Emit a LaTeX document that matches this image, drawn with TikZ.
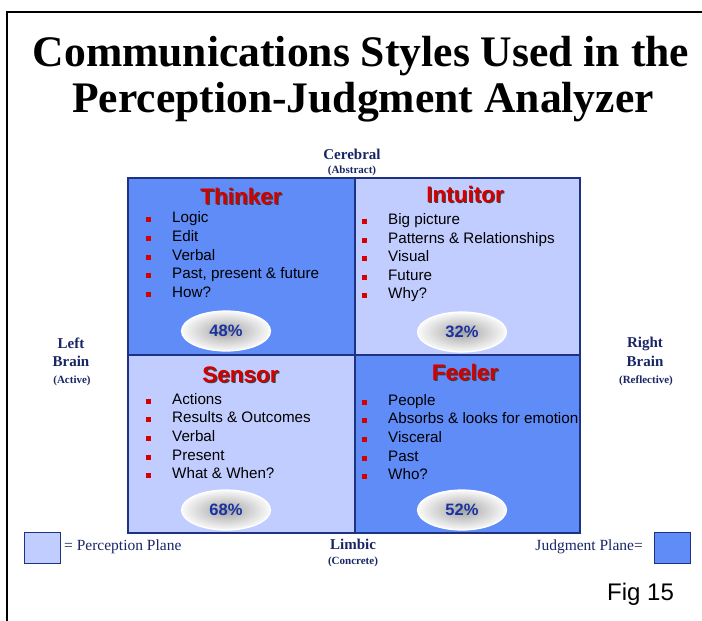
\documentclass[tikz,border=0pt]{standalone}
\usepackage{fontspec}
\setmainfont{Liberation Serif}
\setsansfont{Liberation Sans}
\usetikzlibrary{shapes.geometric}

\definecolor{judg}{RGB}{96,140,248}
\definecolor{perc}{RGB}{194,205,255}
\definecolor{edgeblue}{RGB}{30,50,130}
\definecolor{labnavy}{RGB}{25,38,100}
\definecolor{headred}{RGB}{212,0,0}
\definecolor{pctblue}{RGB}{25,50,160}

\begin{document}
\begin{tikzpicture}[x=1pt,y=-1pt,
  quad/.style={draw=edgeblue,line width=1.5pt},
  headtxt/.style={font=\sffamily\bfseries\fontsize{22.5}{26}\selectfont,inner sep=0pt,anchor=base},
  head/.style={headtxt,text=headred},
  headshadow/.style={headtxt,text=black!75},
  item/.style={font=\sffamily\fontsize{15.2}{18}\selectfont,inner sep=0pt,anchor=base west},
  sq/.style={fill=headred,minimum size=5pt,inner sep=0pt,anchor=south west},
  pct/.style={ellipse,minimum width=89pt,minimum height=40pt,draw=white,line width=1.2pt,
    inner color=gray!72,outer color=gray!4,
    font=\sffamily\bfseries\fontsize{16.5}{19}\selectfont,text=pctblue},
  axis/.style={font=\bfseries\fontsize{15}{17}\selectfont,text=labnavy,inner sep=0pt,anchor=base},
  axissub/.style={font=\bfseries\fontsize{11}{13}\selectfont,text=labnavy,inner sep=0pt,anchor=base},
  legendtxt/.style={font=\fontsize{15.5}{18}\selectfont,text=labnavy,inner sep=0pt,anchor=base},
  key/.style={draw=edgeblue,line width=1pt}]

\useasboundingbox (0,0) rectangle (702,621);

% frame
\coordinate (fbl) at (7,621);
\coordinate (ftl) at (7,12);
\coordinate (ftr) at (702,12);
\draw[line width=1.2pt] (fbl) -- (ftl) -- (ftr);

% title
\node[font=\bfseries\fontsize{43.6}{50}\selectfont,inner sep=0pt,anchor=base] (title1) at (361,66) {Communications Styles Used in the};
\node[font=\bfseries\fontsize{43.6}{50}\selectfont,inner sep=0pt,anchor=base] (title2) at (363,112) {Perception-Judgment Analyzer};

% quadrants
\path[quad,fill=judg] (128,178) rectangle (355,355);
\path[quad,fill=perc] (355,178) rectangle (580,355);
\path[quad,fill=perc] (128,355) rectangle (355,533);
\path[quad,fill=judg] (355,355) rectangle (580,533);

% Thinker
\node[headshadow] (thinkS) at (242.2,205.2) {Thinker};
\node[head] (think) at (241,204) {Thinker};
\node[sq] (tb1) at (146,222) {}; \node[item] (t1) at (172,222) {Logic};
\node[sq] (tb2) at (146,241) {}; \node[item] (t2) at (172,241) {Edit};
\node[sq] (tb3) at (146,260) {}; \node[item] (t3) at (172,260) {Verbal};
\node[sq] (tb4) at (146,278) {}; \node[item] (t4) at (172,278) {Past, present \& future};
\node[sq] (tb5) at (146,297) {}; \node[item] (t5) at (172,297) {How?};
\node[pct] (tp) at (226,331) {48\%};

% Intuitor
\node[headshadow] (intS) at (466.2,203.2) {Intuitor};
\node[head] (int) at (465,202) {Intuitor};
\node[sq] (ib1) at (362,224) {}; \node[item] (i1) at (388,224) {Big picture};
\node[sq] (ib2) at (362,243) {}; \node[item] (i2) at (388,243) {Patterns \& Relationships};
\node[sq] (ib3) at (362,261) {}; \node[item] (i3) at (388,261) {Visual};
\node[sq] (ib4) at (362,280) {}; \node[item] (i4) at (388,280) {Future};
\node[sq] (ib5) at (362,298) {}; \node[item] (i5) at (388,298) {Why?};
\node[pct] (ip) at (462,332) {32\%};

% Sensor
\node[headshadow] (senS) at (241.7,383.2) {Sensor};
\node[head] (sen) at (240.5,382) {Sensor};
\node[sq] (sb1) at (146,404) {}; \node[item] (s1) at (172,404) {Actions};
\node[sq] (sb2) at (146,422) {}; \node[item] (s2) at (172,422) {Results \& Outcomes};
\node[sq] (sb3) at (146,441) {}; \node[item] (s3) at (172,441) {Verbal};
\node[sq] (sb4) at (146,460) {}; \node[item] (s4) at (172,460) {Present};
\node[sq] (sb5) at (146,478) {}; \node[item] (s5) at (172,478) {What \& When?};
\node[pct] (sp) at (226,510) {68\%};

% Feeler
\node[headshadow] (feeS) at (466.2,381.2) {Feeler};
\node[head] (fee) at (465,380) {Feeler};
\node[sq] (fb1) at (362,405) {}; \node[item] (f1) at (388,405) {People};
\node[sq] (fb2) at (362,423) {}; \node[item] (f2) at (388,423) {Absorbs \& looks for emotion};
\node[sq] (fb3) at (362,442) {}; \node[item] (f3) at (388,442) {Visceral};
\node[sq] (fb4) at (362,461) {}; \node[item] (f4) at (388,461) {Past};
\node[sq] (fb5) at (362,479) {}; \node[item] (f5) at (388,479) {Who?};
\node[pct] (fp) at (462,510) {52\%};

% axis labels
\node[axis] (cereb) at (352,159) {Cerebral};
\node[axissub] (abstr) at (352,173.5) {(Abstract)};
\node[axis] (left1) at (71,348) {Left};
\node[axis] (left2) at (71,366) {Brain};
\node[axissub] (activ) at (72,383) {(Active)};
\node[axis] (right1) at (645,347) {Right};
\node[axis] (right2) at (645,366) {Brain};
\node[axissub] (refl) at (646,383) {(Reflective)};
\node[axis] (limb) at (353,549) {Limbic};
\node[axissub] (concr) at (353,564) {(Concrete)};

% legend
\path[key,fill=perc] (24,532) rectangle (60,563);
\node[legendtxt,anchor=base west] (perclab) at (64,550) {= Perception Plane};
\path[key,fill=judg] (654,532) rectangle (690,563);
\node[legendtxt,anchor=base east] (judglab) at (643,550) {Judgment Plane=};

% figure number
\node[font=\sffamily\fontsize{24}{28}\selectfont,inner sep=0pt,anchor=base west] (fig) at (607,600) {Fig 15};
\end{tikzpicture}
\end{document}
